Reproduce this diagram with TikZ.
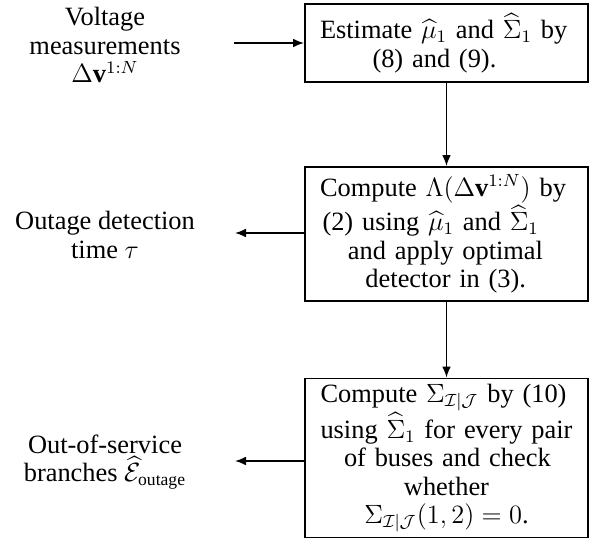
\documentclass[tikz,border=0pt]{standalone}
\usepackage{amsmath}
\usepackage{fontspec}
\setmainfont{Liberation Serif}
\usetikzlibrary{arrows.meta}
\newlength\pxu
\setlength\pxu{0.4545pt}
\newcommand\fl[2]{\makebox[#1\pxu][s]{#2}}
\begin{document}
\begin{tikzpicture}[x=0.4545pt,y=-0.4545pt,
  procbox/.style={draw,line width=0.9pt,minimum width=283\pxu,text width=270\pxu,align=center,inner sep=0pt,font=\fontsize{12}{12.9}\selectfont},
  sidetext/.style={align=center,inner sep=0pt,font=\fontsize{12}{13}\selectfont},
  conn/.style={line width=0.7pt,-{Latex[length=5pt,width=4pt]}}]
\useasboundingbox (0,0) rectangle (599,546);
\node[procbox,minimum height=78\pxu] (b1) at (446.5,43)
  {\fl{253}{Estimate $\widehat{\mu}_1$ and $\widehat{\Sigma}_1$ by}\\ \fl{148}{(8) and (9).}};
\node[procbox,minimum height=134\pxu] (b2) at (446.5,234)
  {\fl{253}{Compute $\Lambda(\Delta\mathbf{v}^{1:N})$ by}\\ \fl{248}{(2) using $\widehat{\mu}_1$ and $\widehat{\Sigma}_1$}\\ \fl{197}{and apply optimal}\\ \fl{162}{detector in (3).}};
\node[procbox,minimum height=159\pxu] (b3) at (446.5,458)
  {\fl{252}{Compute $\Sigma_{\mathcal{I}|\mathcal{J}}$ by (10)}\\ \fl{252}{using $\widehat{\Sigma}_1$ for every pair}\\ \fl{205}{of buses and check}\\ \mbox{whether}\\ \mbox{$\Sigma_{\mathcal{I}|\mathcal{J}}(1,2)=0$.}};
\node[sidetext] (in1) at (105,45) {Voltage\\ measurements\\ $\Delta\mathbf{v}^{1:N}$};
\node[sidetext] (out1) at (105,235) {Outage detection\\ time $\tau$};
\node[sidetext] (out2) at (105,462) {Out-of-service\\ branches $\widehat{\mathcal{E}}_{\text{outage}}$};
\coordinate (a1) at (234,43);
\coordinate (a2) at (235,233);
\coordinate (a3) at (235,461);
\draw[conn] (a1) -- (b1.west);
\draw[conn] (b1.south) -- (b2.north);
\draw[conn] (b2.south) -- (b3.north);
\draw[conn] (b2.west |- a2) -- (a2);
\draw[conn] (b3.west |- a3) -- (a3);
\end{tikzpicture}
\end{document}
